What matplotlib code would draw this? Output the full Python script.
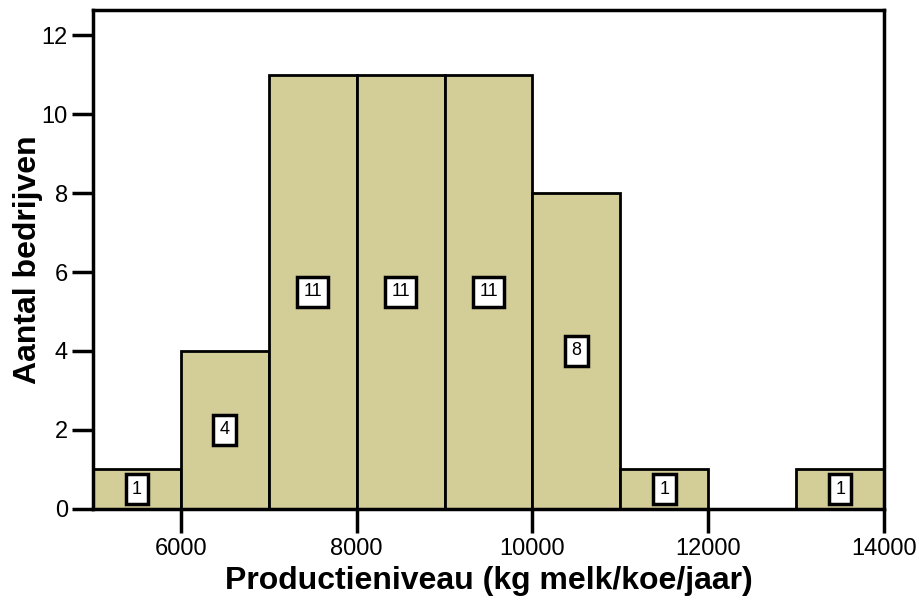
import matplotlib
matplotlib.use("Agg")
import matplotlib.pyplot as plt
import numpy as np

bin_edges = [5000, 6000, 7000, 8000, 9000, 10000, 11000, 12000, 13000, 14000]
counts = [1, 4, 11, 11, 11, 8, 1, 0, 1]
x_ticks = [6000, 8000, 10000, 12000, 14000]
y_ticks = [0, 2, 4, 6, 8, 10, 12]

plt.rcParams['font.family'] = ['Liberation Sans', 'DejaVu Sans']

fig = plt.figure(figsize=(9.2, 6.03), dpi=100)
ax = fig.add_axes([0.101, 0.156, 0.860, 0.827])

lefts = np.array(bin_edges[:-1])
widths = np.diff(bin_edges)
ax.bar(lefts, counts, width=widths, align='edge', color='#D3CD98',
       edgecolor='black', linewidth=2, zorder=2)

for l, w, c in zip(lefts, widths, counts):
    if c > 0:
        ax.text(l + w / 2, c / 2, str(c), ha='center', va='center', fontsize=13,
                bbox=dict(boxstyle='square,pad=0.35', fc='white', ec='black', lw=2.5),
                zorder=3)

ax.set_xlim(5000, 14000)
ax.set_ylim(0, 12.63)
ax.set_xticks(x_ticks)
ax.set_yticks(y_ticks)
ax.tick_params(axis='x', direction='out', length=17, width=2.5, labelsize=17, pad=4)
ax.tick_params(axis='y', direction='out', length=15, width=2.5, labelsize=17, pad=3)
for s in ax.spines.values():
    s.set_linewidth(2.5)

ax.set_xlabel('Productieniveau (kg melk/koe/jaar)', fontsize=23, fontweight='bold', labelpad=4)
ax.set_ylabel('Aantal bedrijven', fontsize=23, fontweight='bold', labelpad=-1)

fig.savefig('out.png', dpi=100)
